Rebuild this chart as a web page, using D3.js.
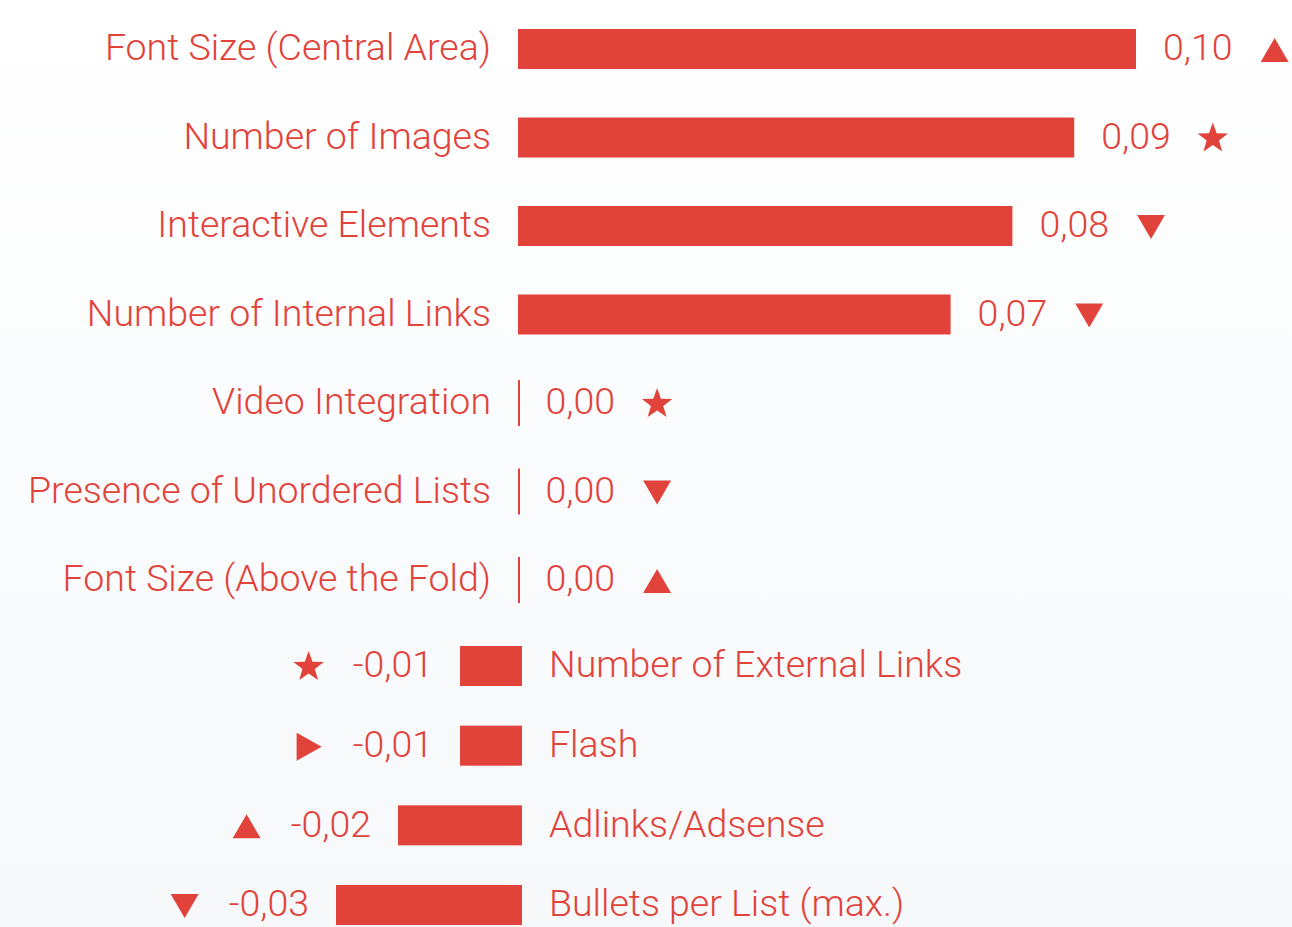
<!DOCTYPE html>
<html>
<head>
<meta charset="utf-8">
<script src="https://cdn.jsdelivr.net/npm/d3@7"></script>
<style>
  html, body { margin: 0; padding: 0; }
  body { width: 1292px; height: 927px; overflow: hidden;
         background: linear-gradient(#ffffff, #f6f8fa); }
  text { font-family: Roboto, sans-serif; font-weight: 300; }
</style>
</head>
<body>
<div id="chart"></div>
<script>
// positive / zero factors
const posCategories = ['Font Size (Central Area)', 'Number of Images', 'Interactive Elements',
  'Number of Internal Links', 'Video Integration', 'Presence of Unordered Lists', 'Font Size (Above the Fold)'];
const posValues = [0.10, 0.09, 0.08, 0.07, 0.00, 0.00, 0.00];
const posSymbols = ['up', 'star', 'down', 'down', 'star', 'down', 'up'];

// negative factors
const negCategories = ['Number of External Links', 'Flash', 'Adlinks/Adsense', 'Bullets per List (max.)'];
const negValues = [-0.01, -0.01, -0.02, -0.03];
const negSymbols = ['star', 'right', 'up', 'down'];

const color = '#e1423a';
const fmt = v => d3.format('.2f')(v).replace('.', ',').replace('−', '-');

const svg = d3.select('#chart').append('svg')
  .attr('width', 1292).attr('height', 927);

const xPos = d3.scaleLinear().domain([0, 0.1]).range([518, 1136]);
const xNeg = d3.scaleLinear().domain([-0.03, 0]).range([336, 522]);
const yPos = d3.scalePoint().domain(posCategories).range([49, 580]);
const yNeg = d3.scalePoint().domain(negCategories).range([666, 905]);
const barH = 40;
const fontSize = 37.5;

function symbolPath(type) {
  if (type === 'up') return 'M0,-12L14,12L-14,12Z';
  if (type === 'down') return 'M0,12L14,-12L-14,-12Z';
  if (type === 'right') return 'M13,0L-12,14L-12,-14Z';
  // star
  const R = 16, r = 6.5, pts = [];
  for (let i = 0; i < 10; i++) {
    const a = -Math.PI / 2 + i * Math.PI / 5;
    const rr = i % 2 ? r : R;
    pts.push([rr * Math.cos(a), rr * Math.sin(a)]);
  }
  return 'M' + pts.join('L') + 'Z';
}

const posData = posCategories.map((c, i) => ({ c, v: posValues[i], s: posSymbols[i] }));
const negData = negCategories.map((c, i) => ({ c, v: negValues[i], s: negSymbols[i] }));

// positive rows
const pg = svg.selectAll('.pos').data(posData).enter().append('g')
  .attr('class', 'pos')
  .attr('transform', d => `translate(0,${yPos(d.c)})`);

pg.append('text')
  .attr('x', xPos(0) - 27).attr('dy', '0.3em')
  .attr('text-anchor', 'end')
  .attr('font-size', fontSize).attr('fill', color)
  .text(d => d.c);

pg.filter(d => d.v > 0).append('rect')
  .attr('x', xPos(0)).attr('y', -barH / 2)
  .attr('width', d => xPos(d.v) - xPos(0)).attr('height', barH)
  .attr('fill', color);

pg.filter(d => d.v === 0).append('line')
  .attr('x1', xPos(0) + 1).attr('x2', xPos(0) + 1)
  .attr('y1', -23).attr('y2', 23)
  .attr('stroke', color).attr('stroke-width', 2);

pg.each(function (d) {
  const g = d3.select(this);
  const x0 = d.v > 0 ? xPos(d.v) + 27 : xPos(0) + 27.5;
  const t = g.append('text')
    .attr('x', x0).attr('dy', '0.3em')
    .attr('font-size', fontSize).attr('fill', color)
    .text(fmt(d.v));
  const w = t.node().getComputedTextLength();
  g.append('path')
    .attr('transform', `translate(${x0 + w + 42},1)`)
    .attr('d', symbolPath(d.s))
    .attr('fill', color);
});

// negative rows
const ng = svg.selectAll('.neg').data(negData).enter().append('g')
  .attr('class', 'neg')
  .attr('transform', d => `translate(0,${yNeg(d.c)})`);

ng.append('rect')
  .attr('x', d => xNeg(d.v)).attr('y', -barH / 2)
  .attr('width', d => xNeg(0) - xNeg(d.v)).attr('height', barH)
  .attr('fill', color);

ng.append('text')
  .attr('x', xNeg(0) + 27).attr('dy', '0.3em')
  .attr('font-size', fontSize).attr('fill', color)
  .text(d => d.c);

ng.each(function (d) {
  const g = d3.select(this);
  const x1 = xNeg(d.v) - 27;
  const t = g.append('text')
    .attr('x', x1).attr('dy', '0.3em')
    .attr('text-anchor', 'end')
    .attr('font-size', fontSize).attr('fill', color)
    .text(fmt(d.v));
  const w = t.node().getComputedTextLength();
  g.append('path')
    .attr('transform', `translate(${x1 - w - 44},1)`)
    .attr('d', symbolPath(d.s))
    .attr('fill', color);
});
</script>
</body>
</html>
